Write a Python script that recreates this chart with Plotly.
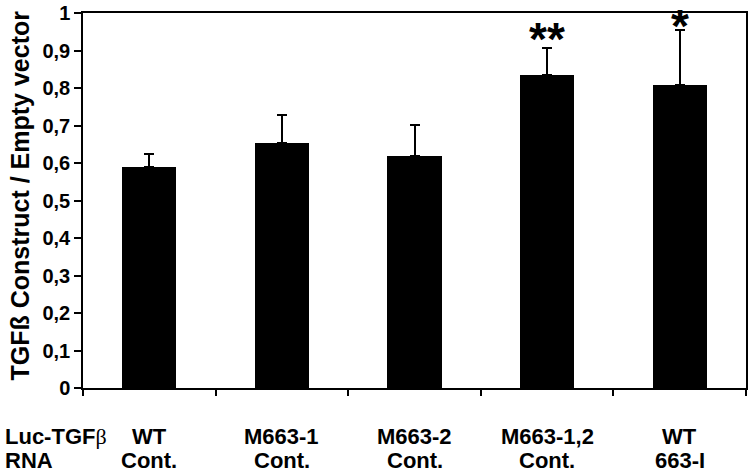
import plotly.graph_objects as go

construct = ["WT", "M663-1", "M663-2", "M663-1,2", "WT"]
rna = ["Cont.", "Cont.", "Cont.", "Cont.", "663-I"]
ratio = [0.59, 0.653, 0.62, 0.835, 0.809]
err_up = [0.035, 0.076, 0.082, 0.072, 0.146]
significance = ["", "", "", "**", "*"]
y_ticks = [0, 0.1, 0.2, 0.3, 0.4, 0.5, 0.6, 0.7, 0.8, 0.9, 1.0]
y_ticklabels = ["0", "0,1", "0,2", "0,3", "0,4", "0,5", "0,6", "0,7", "0,8", "0,9", "1"]
row_labels = ["<b>Luc-TGF</b><span style='font-family:Liberation Serif'>\u03b2</span>", "<b>RNA</b>"]

FONT = "Liberation Sans, Arial, sans-serif"
xs = list(range(len(construct)))
star_shift = {"**": -19, "*": -24}

fig = go.Figure()
fig.add_trace(go.Bar(
    x=xs, y=ratio, width=0.41,
    marker=dict(color="black", line=dict(width=0)),
    error_y=dict(type="data", array=err_up, arrayminus=[0] * len(ratio),
                 symmetric=False, color="black", thickness=2, width=5),
    hoverinfo="skip",
))

annotations = []
for i, (c, r) in enumerate(zip(construct, rna)):
    annotations.append(dict(x=i, y=0, xref="x", yref="paper", yshift=-48,
                            text="<b>%s</b>" % c, showarrow=False,
                            xanchor="center", yanchor="middle",
                            font=dict(family=FONT, size=22, color="black")))
    annotations.append(dict(x=i, y=0, xref="x", yref="paper", yshift=-72,
                            text="<b>%s</b>" % r, showarrow=False,
                            xanchor="center", yanchor="middle",
                            font=dict(family=FONT, size=22, color="black")))
    if significance[i]:
        annotations.append(dict(x=i, y=ratio[i] + err_up[i], xref="x", yref="y",
                                text="<b>%s</b>" % significance[i], showarrow=False,
                                xanchor="center", yanchor="bottom",
                                yshift=star_shift[significance[i]],
                                font=dict(family=FONT, size=46, color="black")))
for k, lab in enumerate(row_labels):
    annotations.append(dict(x=0, y=0, xref="paper", yref="paper", xshift=-80,
                            yshift=-48 - 24 * k,
                            text=lab, showarrow=False,
                            xanchor="left", yanchor="middle",
                            font=dict(family=FONT, size=22, color="black")))
annotations.append(dict(x=0, y=0.5, xref="paper", yref="paper", xshift=-64, yshift=5,
                        text="<b>TGF\u00df Construct / Empty vector</b>",
                        textangle=-90, showarrow=False,
                        xanchor="center", yanchor="middle",
                        font=dict(family=FONT, size=25, color="black")))

fig.update_layout(
    width=750, height=472,
    margin=dict(l=83, r=2, t=12, b=84),
    paper_bgcolor="white", plot_bgcolor="white",
    showlegend=False,
    annotations=annotations,
    bargap=0,
)
fig.update_xaxes(range=[-0.5, 4.5], tickmode="array",
                 tickvals=[x - 0.5 for x in xs] + [4.5],
                 ticktext=[""] * (len(xs) + 1),
                 ticks="outside", ticklen=6, tickwidth=1.5, tickcolor="black",
                 showline=True, linecolor="black", linewidth=1.5, mirror=True,
                 showgrid=False, zeroline=False)
fig.update_yaxes(range=[0, 1], tickmode="array", tickvals=y_ticks,
                 ticktext=["<b>%s</b>" % t for t in y_ticklabels],
                 ticks="outside", ticklen=7, tickwidth=1.5, tickcolor="black",
                 tickfont=dict(family=FONT, size=20, color="black"),
                 showline=True, linecolor="black", linewidth=1.5, mirror=True,
                 showgrid=False, zeroline=False)

# remove the browser's default 8px body margin so the figure fills the window
fig.write_html("out.html", config={"displayModeBar": False},
               post_script="document.body.style.margin='0px';")
